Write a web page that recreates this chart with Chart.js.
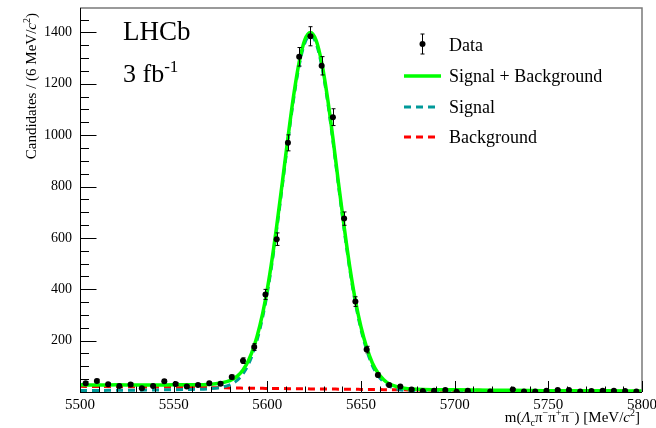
<!DOCTYPE html>
<html>
<head>
<meta charset="utf-8">
<script src="https://cdn.jsdelivr.net/npm/chart.js@4.4.0/dist/chart.umd.min.js"></script>
<style>
html, body { margin: 0; padding: 0; background: #fff; }
</style>
</head>
<body>
<canvas id="mass-chart" width="656" height="428"></canvas>
<script>
const massChart = document.getElementById('mass-chart');
const SERIF = '"Liberation Serif", "DejaVu Serif", serif';

// 6 MeV bins, centres
const binCentres = [
    5503, 5509, 5515, 5521, 5527, 5533, 5539, 5545, 5551, 5557,
    5563, 5569, 5575, 5581, 5587, 5593, 5599, 5605, 5611, 5617,
    5623, 5629, 5635, 5641, 5647, 5653, 5659, 5665, 5671, 5677,
    5683, 5689, 5695, 5701, 5707, 5713, 5719, 5725, 5731, 5737,
    5743, 5749, 5755, 5761, 5767, 5773, 5779, 5785, 5791, 5797
];
// candidates per bin (null = empty bin, no marker)
const candidates = [
    34, 43, 30, 23, 29, 15, 23, 42, 31, 21,
    27, 34, 32, 58, 122, 175, 380, 595, 970, 1305,
    1385, 1270, 1070, 675, 352, 165, 66, 27, 21, 10,
    4, 5, 8, 1, 5, null, 2, null, 10, 2,
    2, 5, 8, 8, 2, 4, 5, 5, 4, 2
];

// fit curves sampled along the mass axis
const fitMass = [
    5500, 5510, 5520, 5530, 5540, 5550, 5560, 5570, 5575, 5580,
    5584, 5587, 5590, 5593, 5596, 5599, 5602, 5605, 5608, 5611,
    5614, 5617, 5620, 5623, 5626, 5629, 5632, 5635, 5638, 5641,
    5644, 5647, 5650, 5653, 5656, 5659, 5662, 5665, 5670, 5675,
    5680, 5690, 5700, 5720, 5740, 5760, 5780, 5800
];
const fitTotal = [
    28, 27, 28, 27, 27, 28, 28, 30, 35, 44,
    62, 86, 124, 180, 258, 360, 491, 646, 816, 990,
    1152, 1284, 1371, 1400, 1370, 1283, 1151, 989, 813, 643,
    488, 357, 253, 174, 114, 75, 49, 32, 19, 13,
    10.5, 9, 8.5, 7, 6, 4.5, 4.5, 3.5
];
const fitSignal = [
    6, 6, 7, 7, 8, 9, 10, 13, 18, 28,
    46, 71, 109, 165, 243, 346, 477, 632, 802, 977,
    1139, 1271, 1358, 1388, 1358, 1271, 1139, 977, 802, 632,
    477, 346, 243, 164, 104, 65, 40, 23, 10, 5,
    2.5, 2, 1.5, 1, 1, 0.5, 0.5, 0.5
];
const fitBackground = [
    22, 21, 21, 20, 19, 19, 18, 17, 17, 16,
    16, 15, 15, 15, 15, 14, 14, 14, 14, 13,
    13, 13, 13, 12, 12, 12, 12, 12, 11, 11,
    11, 11, 10, 10, 10, 10, 9, 9, 9, 8,
    8, 7, 7, 6, 5, 4, 4, 3
];

const massTicks = [5500, 5550, 5600, 5650, 5700, 5750, 5800];
const countTicks = [200, 400, 600, 800, 1000, 1200, 1400];

const legendItems = ['Data', 'Signal + Background', 'Signal', 'Background'];

const GREEN = '#00ff00';
const TEAL = '#009999';
const RED = '#ff0000';

function curve(ys) {
    return fitMass.map((m, i) => ({ x: m, y: ys[i] }));
}

// text pieces with italics and sub/superscripts
function richWidth(ctx, parts, size) {
    let w = 0;
    parts.forEach(p => {
        ctx.font = (p.i ? 'italic ' : '') + (p.s || size) + 'px ' + SERIF;
        w += ctx.measureText(p.t).width;
    });
    return w;
}
function drawRich(ctx, parts, x, y, size) {
    parts.forEach(p => {
        ctx.font = (p.i ? 'italic ' : '') + (p.s || size) + 'px ' + SERIF;
        ctx.fillText(p.t, x, y + (p.dy || 0));
        x += ctx.measureText(p.t).width;
    });
}

const xTitle = [
    { t: 'm(' }, { t: 'Λ', i: true }, { t: 'c', s: 10, dy: 4 },
    { t: 'π' }, { t: '−', s: 10, dy: -6 },
    { t: 'π' }, { t: '+', s: 10, dy: -6 },
    { t: 'π' }, { t: '−', s: 10, dy: -6 },
    { t: ') [MeV/' }, { t: 'c', i: true }, { t: '2', s: 10, dy: -6 }, { t: ']' }
];
const yTitle = [
    { t: 'Candidates / (6 MeV/' }, { t: 'c', i: true }, { t: '2', s: 10, dy: -6 }, { t: ')' }
];

// ROOT-like frame: inward ticks, error bars, legend and labels
const decor = {
    id: 'decor',
    afterDatasetsDraw(chart) {
        const { ctx, scales: { x, y } } = chart;
        ctx.save();
        ctx.strokeStyle = '#000';
        ctx.lineWidth = 1;
        binCentres.forEach((m, i) => {
            const n = candidates[i];
            if (n === null || n <= 0) return;
            const px = Math.round(x.getPixelForValue(m)) + 0.5;
            const top = y.getPixelForValue(n + Math.sqrt(n));
            const bot = y.getPixelForValue(Math.max(n - Math.sqrt(n), 0));
            ctx.beginPath();
            ctx.moveTo(px, top); ctx.lineTo(px, bot);
            ctx.moveTo(px - 2, top); ctx.lineTo(px + 2, top);
            ctx.moveTo(px - 2, bot); ctx.lineTo(px + 2, bot);
            ctx.stroke();
        });
        ctx.restore();
    },
    afterDraw(chart) {
        const { ctx, chartArea: a, scales: { x, y } } = chart;
        ctx.save();

        // grey frame top / right
        ctx.strokeStyle = '#7a7a7a';
        ctx.lineWidth = 1.5;
        ctx.beginPath();
        ctx.moveTo(a.left, a.top); ctx.lineTo(a.right, a.top); ctx.lineTo(a.right, a.bottom);
        ctx.stroke();

        // axis lines and inward ticks
        ctx.strokeStyle = '#000';
        ctx.lineWidth = 1;
        ctx.beginPath();
        ctx.moveTo(a.left + 0.5, a.top); ctx.lineTo(a.left + 0.5, a.bottom + 0.5); ctx.lineTo(a.right, a.bottom + 0.5);
        for (let m = 5500; m <= 5800; m += 10) {
            const px = Math.round(x.getPixelForValue(m)) + 0.5;
            const len = m % 50 === 0 ? 11 : 5.5;
            ctx.moveTo(px, a.bottom); ctx.lineTo(px, a.bottom - len);
        }
        for (let c = 0; c <= y.max; c += 50) {
            const py = Math.round(y.getPixelForValue(c)) + 0.5;
            const len = c % 200 === 0 ? 16.5 : 9;
            ctx.moveTo(a.left, py); ctx.lineTo(a.left + len, py);
        }
        ctx.stroke();

        ctx.fillStyle = '#000';
        ctx.textBaseline = 'alphabetic';

        // axis titles
        const xw = richWidth(ctx, xTitle, 15);
        drawRich(ctx, xTitle, 640 - xw, 422, 15);

        ctx.save();
        ctx.translate(36, 13);
        ctx.rotate(-Math.PI / 2);
        const yw = richWidth(ctx, yTitle, 15);
        drawRich(ctx, yTitle, -yw, 0, 15);
        ctx.restore();

        // experiment label
        ctx.font = '27px ' + SERIF;
        ctx.fillText('LHCb', 123, 40);
        drawRich(ctx, [{ t: '3 fb' }, { t: '-1', s: 17, dy: -10 }], 123, 82, 26);

        // legend
        const lx = 449;
        const rows = [45, 76, 107, 137];
        ctx.font = '18px ' + SERIF;
        ctx.textBaseline = 'middle';
        legendItems.forEach((label, i) => ctx.fillText(label, lx, rows[i] + 1));

        ctx.beginPath();
        ctx.moveTo(422.5, 34); ctx.lineTo(422.5, 54);
        ctx.moveTo(420.5, 34); ctx.lineTo(424.5, 34);
        ctx.moveTo(420.5, 54); ctx.lineTo(424.5, 54);
        ctx.stroke();
        ctx.beginPath();
        ctx.arc(422.5, 44, 3, 0, Math.PI * 2);
        ctx.fill();

        ctx.lineWidth = 3.5;
        ctx.strokeStyle = GREEN;
        ctx.beginPath(); ctx.moveTo(404, rows[1]); ctx.lineTo(441, rows[1]); ctx.stroke();

        ctx.lineWidth = 3;
        ctx.setLineDash([7, 5]);
        ctx.strokeStyle = TEAL;
        ctx.beginPath(); ctx.moveTo(404, rows[2]); ctx.lineTo(436, rows[2]); ctx.stroke();
        ctx.strokeStyle = RED;
        ctx.beginPath(); ctx.moveTo(404, rows[3]); ctx.lineTo(436, rows[3]); ctx.stroke();

        ctx.restore();
    }
};

new Chart(massChart, {
    type: 'scatter',
    data: {
        datasets: [
            {
                label: 'Data',
                data: binCentres.map((m, i) => ({ x: m, y: candidates[i] })),
                pointRadius: 3,
                pointBackgroundColor: '#000',
                pointBorderWidth: 0,
                showLine: false
            },
            {
                label: 'Signal + Background',
                data: curve(fitTotal),
                showLine: true,
                borderColor: GREEN,
                borderWidth: 3.5,
                pointRadius: 0,
                cubicInterpolationMode: 'monotone'
            },
            {
                label: 'Signal',
                data: curve(fitSignal),
                showLine: true,
                borderColor: TEAL,
                borderWidth: 3,
                borderDash: [7, 5],
                pointRadius: 0,
                cubicInterpolationMode: 'monotone'
            },
            {
                label: 'Background',
                data: curve(fitBackground),
                showLine: true,
                borderColor: RED,
                borderWidth: 3,
                borderDash: [7, 5],
                pointRadius: 0,
                cubicInterpolationMode: 'monotone'
            }
        ]
    },
    options: {
        responsive: false,
        animation: false,
        devicePixelRatio: 1,
        layout: { padding: { top: 8, right: 14, left: 0, bottom: 0 } },
        plugins: {
            legend: { display: false },
            tooltip: { enabled: false }
        },
        scales: {
            x: {
                type: 'linear',
                min: 5500,
                max: 5800,
                afterBuildTicks: s => { s.ticks = massTicks.map(v => ({ value: v })); },
                afterFit: s => { s.height = 36; s.paddingLeft = 0; s.paddingRight = 0; },
                ticks: {
                    font: { family: SERIF, size: 15 },
                    color: '#000',
                    padding: 4,
                    maxRotation: 0,
                    autoSkip: false,
                    callback: v => String(v)
                },
                grid: { display: false, drawTicks: false },
                border: { display: false }
            },
            y: {
                min: 0,
                max: 1495,
                afterBuildTicks: s => { s.ticks = countTicks.map(v => ({ value: v })); },
                afterFit: s => { s.width = 80; s.paddingTop = 0; s.paddingBottom = 0; },
                ticks: {
                    font: { family: SERIF, size: 14 },
                    color: '#000',
                    padding: 8,
                    callback: v => String(v)
                },
                grid: { display: false, drawTicks: false },
                border: { display: false }
            }
        }
    },
    plugins: [decor]
});
</script>
</body>
</html>
